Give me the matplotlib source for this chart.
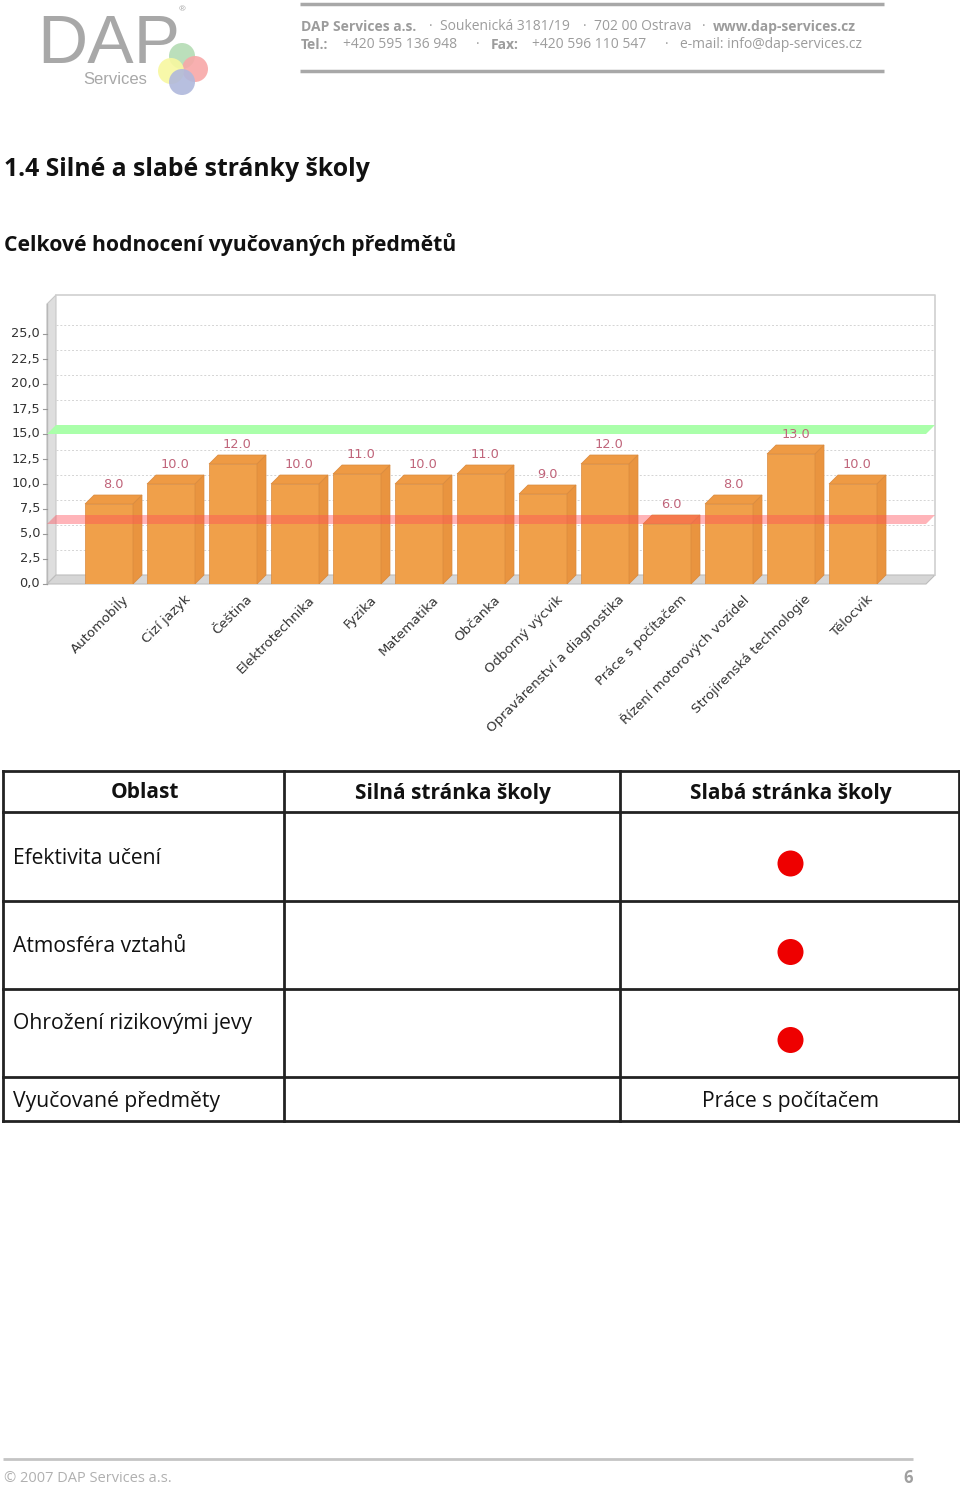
import matplotlib
matplotlib.use("Agg")
import matplotlib.pyplot as plt
from matplotlib.patches import Polygon, Rectangle, Circle

# Data
subjects = ["Automobily", "Cizí jazyk", "Čeština", "Elektrotechnika", "Fyzika",
            "Matematika", "Občanka", "Odborný výcvik", "Opravárenství a diagnostika",
            "Práce s počítačem", "Řízení motorových vozidel", "Strojírenská technologie",
            "Tělocvik"]
scores = [8.0, 10.0, 12.0, 10.0, 11.0, 10.0, 11.0, 9.0, 12.0, 6.0, 8.0, 13.0, 10.0]
upper_limit = 15.0
lower_limit = 6.0
y_ticks = [0, 2.5, 5, 7.5, 10, 12.5, 15, 17.5, 20, 22.5, 25]

table_header = ["Oblast", "Silná stránka školy", "Slabá stránka školy"]
areas = ["Efektivita učení", "Atmosféra vztahů", "Ohrožení rizikovými jevy", "Vyučované předměty"]
weak_flags = [True, True, True, False]
weak_subject = subjects[scores.index(min(scores))]

W, H = 960, 1487
fig = plt.figure(figsize=(W / 100, H / 100), dpi=100)
plt.rcParams['font.family'] = ['Open Sans', 'DejaVu Sans']

# page axes in pixel coordinates
page = fig.add_axes([0, 0, 1, 1])
page.set_xlim(0, W)
page.set_ylim(H, 0)
page.axis('off')

GRAY = '#9c9c9c'

# ---- letterhead ----
page.text(37, 63, "DAP", fontsize=50, color='#a8a8a8', family='Liberation Sans',
          ha='left', va='baseline')
page.text(179, 10, "®", fontsize=6, color='#a8a8a8', ha='left', va='center')
page.text(83, 80, "Services", fontsize=12, color='#a8a8a8', family='Liberation Sans',
          ha='left', va='center')
for cx, cy, col in [(182, 56, '#b4dcb4'), (195, 69, '#f8a8a8'),
                    (171, 71, '#f8f8a0'), (182, 82, '#b0b8dc')]:
    page.add_patch(Circle((cx, cy), 13, color=col, alpha=0.9, lw=0))

page.plot([300, 884], [4, 4], color='#a8a8a8', lw=2.5, solid_capstyle='butt')
page.plot([300, 884], [71, 71], color='#a8a8a8', lw=2.5, solid_capstyle='butt')

line1 = [(301, "DAP Services a.s.", 'bold'), (429, "·", 'normal'),
         (440, "Soukenická 3181/19", 'normal'), (583, "·", 'normal'),
         (594, "702 00 Ostrava", 'normal'), (702, "·", 'normal'),
         (713, "www.dap-services.cz", 'bold')]
line2 = [(301, "Tel.:", 'bold'), (343, "+420 595 136 948", 'normal'),
         (476, "·", 'normal'), (491, "Fax:", 'bold'),
         (532, "+420 596 110 547", 'normal'), (665, "·", 'normal'),
         (680, "e-mail: info@dap-services.cz", 'normal')]
for y, segs in [(27, line1), (45, line2)]:
    for x, s, wt in segs:
        page.text(x, y, s, fontsize=10, color=GRAY, fontweight=wt,
                  ha='left', va='center', family=['Liberation Sans Narrow', 'Open Sans'])

# ---- headings ----
page.text(4, 169, "1.4 Silné a slabé stránky školy", fontsize=17.8, fontweight='bold',
          ha='left', va='center', color='#111111')
page.text(4, 245, "Celkové hodnocení vyučovaných předmětů", fontsize=15.2, fontweight='bold',
          ha='left', va='center', color='#111111')

# ---- table ----
col_x = [3, 284, 620, 959]
row_y = [771, 812, 901, 989, 1077, 1121]
for x in col_x:
    page.plot([x, x], [row_y[0], row_y[-1]], color='#222222', lw=2)
for y in row_y:
    page.plot([col_x[0], col_x[-1]], [y, y], color='#222222', lw=2)
for j, head in enumerate(table_header):
    page.text((col_x[j] + col_x[j + 1]) / 2 + 1, 793, head, fontsize=15, fontweight='bold',
              ha='center', va='center', color='#111111')
text_y = [859, 947, 1023, 1101]
for i, area in enumerate(areas):
    page.text(13, text_y[i], area, fontsize=15.2, ha='left', va='center', color='#111111')
    cx = (col_x[2] + col_x[3]) / 2 + 1
    if weak_flags[i]:
        cy = (row_y[i + 1] + row_y[i + 2]) / 2 + 7
        page.add_patch(Circle((cx, cy), 13, color='#ee0000', lw=0))
    else:
        page.text(cx, text_y[i], weak_subject, fontsize=15.2, ha='center', va='center',
                  color='#111111')

# ---- footer ----
page.plot([3, 913], [1459, 1459], color='#c4c4c4', lw=2, solid_capstyle='butt')
page.text(4, 1478, "© 2007 DAP Services a.s.", fontsize=10.5, color='#b0b0b0',
          ha='left', va='center', family=['Liberation Sans Narrow', 'Open Sans'])
page.text(913, 1478, "6", fontsize=12, color='#a0a0a0', fontweight='bold',
          ha='right', va='center')

# ---- 3D-looking bar chart ----
px_l, px_r, px_t, px_b = 47, 935, 295, 584
unit_px = 62.0
val_px = 10.0
x0 = -1.0
x1 = x0 + (px_r - px_l) / unit_px
y_top = (px_b - px_t) / val_px
ax = fig.add_axes([px_l / W, 1 - px_b / H, (px_r - px_l) / W, (px_b - px_t) / H])
ax.set_xlim(x0, x1)
ax.set_ylim(0, y_top)
ax.axis('off')

dx = 9 / unit_px
dy = 9 / val_px
bw = 48 / unit_px

# walls and floor
ax.add_patch(Polygon([(x0, 0), (x0 + dx, dy), (x0 + dx, y_top), (x0, y_top - dy)],
                     closed=True, facecolor='#dedede', edgecolor='#c8c8c8', lw=0.8,
                     clip_on=False, zorder=1))
ax.add_patch(Polygon([(x0, 0), (x1 - dx, 0), (x1, dy), (x0 + dx, dy)],
                     closed=True, facecolor='#d6d6d6', edgecolor='#bdbdbd', lw=0.8,
                     clip_on=False, zorder=1))
ax.plot([x0 + dx, x1, x1], [y_top, y_top, dy], color='#cfcfcf', lw=1.2,
        clip_on=False, zorder=1)
ax.plot([x0, x0], [0, y_top - dy], color='#b8b8b8', lw=1, clip_on=False, zorder=2)

for v in y_ticks:
    if v > 0:
        ax.plot([x0 + dx, x1], [v + dy, v + dy], color='#d4d4d4', lw=0.7,
                ls=(0, (2, 2)), zorder=1)
    ax.plot([x0 - 4 / unit_px, x0], [v, v], color='#999999', lw=0.8, clip_on=False)
    ax.text(x0 - 7 / unit_px, v, f"{v:.1f}".replace('.', ','), fontsize=9.3,
            family='DejaVu Sans', color='#333333', ha='right', va='center')


def band(level, color, alpha, z):
    ax.add_patch(Polygon([(x0, level), (x1 - dx, level), (x1, level + dy), (x0 + dx, level + dy)],
                         closed=True, facecolor=color, alpha=alpha, lw=0,
                         clip_on=False, zorder=z))


band(upper_limit, '#aaffaa', 1.0, 2)

for i, v in enumerate(scores):
    l, r = i - bw / 2, i + bw / 2
    ax.add_patch(Rectangle((l, 0), bw, v, facecolor='#f0a04a', edgecolor='#d98a3e',
                           lw=0.5, zorder=3))
    ax.add_patch(Polygon([(l, v), (r, v), (r + dx, v + dy), (l + dx, v + dy)], closed=True,
                         facecolor='#ee9a44', edgecolor='#d98a3e', lw=0.5, zorder=3))
    ax.add_patch(Polygon([(r, 0), (r + dx, dy), (r + dx, v + dy), (r, v)], closed=True,
                         facecolor='#e9943f', edgecolor='#d98a3e', lw=0.5, zorder=3))
    ax.text(i + dx / 2, v + dy + 0.35, f"{v:.1f}", fontsize=9.3, family='DejaVu Sans',
            color='#c0647a', ha='center', va='bottom', zorder=5)
    ax.text(i + 13 / unit_px, -0.9, subjects[i], fontsize=9.5, family='DejaVu Sans',
            color='#333333', rotation=45, rotation_mode='anchor',
            ha='right', va='top', clip_on=False)

band(lower_limit, '#ff4d59', 0.42, 4)

fig.savefig("out.png", dpi=100)
